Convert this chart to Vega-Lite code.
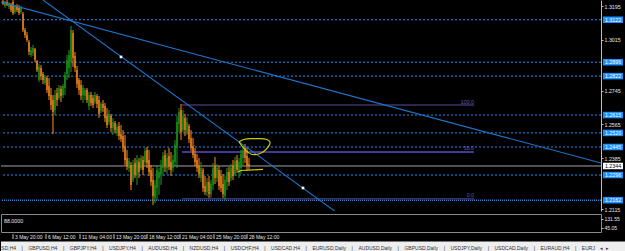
{
"$schema": "https://vega.github.io/schema/vega-lite/v6.json",
"background": "#000000",
"padding": 0,
"spacing": 0,
"config": {"font": "Liberation Sans", "view": {"stroke": null}, "axis": {"grid": false, "labelFont": "Liberation Sans"}},
"datasets": {
"candles": [
{"i":1,"o":1.3222,"h":1.3227,"l":1.3200,"c":1.3206},{"i":2,"o":1.3195,"h":1.3222,"l":1.3184,"c":1.3216},{"i":3,"o":1.3216,"h":1.3227,"l":1.3195,"c":1.3200},{"i":4,"o":1.3190,"h":1.3216,"l":1.3179,"c":1.3211},{"i":5,"o":1.3206,"h":1.3211,"l":1.3163,"c":1.3174},{"i":6,"o":1.3216,"h":1.3227,"l":1.3147,"c":1.3158},{"i":7,"o":1.3163,"h":1.3200,"l":1.3153,"c":1.3195},{"i":8,"o":1.3195,"h":1.3206,"l":1.3163,"c":1.3174},{"i":9,"o":1.3184,"h":1.3200,"l":1.3147,"c":1.3158},{"i":10,"o":1.3163,"h":1.3195,"l":1.3153,"c":1.3184},
{"i":11,"o":1.3153,"h":1.3163,"l":1.3057,"c":1.3067},{"i":12,"o":1.3067,"h":1.3078,"l":1.3025,"c":1.3041},{"i":13,"o":1.3041,"h":1.3057,"l":1.3004,"c":1.3014},{"i":14,"o":1.3004,"h":1.3014,"l":1.2934,"c":1.2950},{"i":15,"o":1.2934,"h":1.2977,"l":1.2924,"c":1.2961},{"i":16,"o":1.2945,"h":1.2988,"l":1.2929,"c":1.2972},{"i":17,"o":1.2966,"h":1.2972,"l":1.2897,"c":1.2908},{"i":18,"o":1.2903,"h":1.2908,"l":1.2844,"c":1.2855},{"i":19,"o":1.2801,"h":1.2887,"l":1.2791,"c":1.2871},{"i":20,"o":1.2865,"h":1.2881,"l":1.2801,"c":1.2823},
{"i":21,"o":1.2833,"h":1.2844,"l":1.2780,"c":1.2801},{"i":22,"o":1.2785,"h":1.2828,"l":1.2775,"c":1.2817},{"i":23,"o":1.2812,"h":1.2823,"l":1.2732,"c":1.2748},{"i":24,"o":1.2770,"h":1.2812,"l":1.2695,"c":1.2716},{"i":25,"o":1.2722,"h":1.2759,"l":1.2642,"c":1.2668},{"i":26,"o":1.2695,"h":1.2722,"l":1.2514,"c":1.2631},{"i":27,"o":1.2642,"h":1.2748,"l":1.2615,"c":1.2722},{"i":28,"o":1.2732,"h":1.2759,"l":1.2663,"c":1.2695},{"i":29,"o":1.2706,"h":1.2775,"l":1.2695,"c":1.2759},{"i":30,"o":1.2754,"h":1.2770,"l":1.2684,"c":1.2716},
{"i":31,"o":1.2722,"h":1.2780,"l":1.2706,"c":1.2770},{"i":32,"o":1.2759,"h":1.2844,"l":1.2722,"c":1.2828},{"i":33,"o":1.2833,"h":1.2934,"l":1.2801,"c":1.2908},{"i":34,"o":1.2865,"h":1.2961,"l":1.2812,"c":1.2934},{"i":35,"o":1.2897,"h":1.3089,"l":1.2844,"c":1.3067},{"i":36,"o":1.3051,"h":1.3067,"l":1.2871,"c":1.2919},{"i":37,"o":1.2929,"h":1.2950,"l":1.2844,"c":1.2865},{"i":38,"o":1.2855,"h":1.2876,"l":1.2759,"c":1.2780},{"i":39,"o":1.2801,"h":1.2812,"l":1.2722,"c":1.2748},{"i":40,"o":1.2775,"h":1.2801,"l":1.2695,"c":1.2716},
{"i":41,"o":1.2722,"h":1.2775,"l":1.2679,"c":1.2759},{"i":42,"o":1.2716,"h":1.2759,"l":1.2695,"c":1.2748},{"i":43,"o":1.2748,"h":1.2759,"l":1.2679,"c":1.2695},{"i":44,"o":1.2663,"h":1.2738,"l":1.2642,"c":1.2722},{"i":45,"o":1.2722,"h":1.2738,"l":1.2663,"c":1.2679},{"i":46,"o":1.2706,"h":1.2722,"l":1.2652,"c":1.2668},{"i":47,"o":1.2684,"h":1.2738,"l":1.2674,"c":1.2722},{"i":48,"o":1.2716,"h":1.2727,"l":1.2652,"c":1.2674},{"i":49,"o":1.2695,"h":1.2716,"l":1.2599,"c":1.2621},{"i":50,"o":1.2637,"h":1.2684,"l":1.2626,"c":1.2674},
{"i":51,"o":1.2674,"h":1.2695,"l":1.2631,"c":1.2652},{"i":52,"o":1.2663,"h":1.2679,"l":1.2578,"c":1.2599},{"i":53,"o":1.2610,"h":1.2652,"l":1.2546,"c":1.2562},{"i":54,"o":1.2578,"h":1.2642,"l":1.2562,"c":1.2621},{"i":55,"o":1.2610,"h":1.2621,"l":1.2525,"c":1.2546},{"i":56,"o":1.2546,"h":1.2599,"l":1.2509,"c":1.2578},{"i":57,"o":1.2573,"h":1.2583,"l":1.2519,"c":1.2535},{"i":58,"o":1.2519,"h":1.2567,"l":1.2503,"c":1.2551},{"i":59,"o":1.2557,"h":1.2578,"l":1.2482,"c":1.2503},{"i":60,"o":1.2514,"h":1.2562,"l":1.2472,"c":1.2487},
{"i":61,"o":1.2503,"h":1.2535,"l":1.2418,"c":1.2440},{"i":62,"o":1.2450,"h":1.2509,"l":1.2349,"c":1.2376},{"i":63,"o":1.2386,"h":1.2429,"l":1.2323,"c":1.2344},{"i":64,"o":1.2333,"h":1.2386,"l":1.2312,"c":1.2370},{"i":65,"o":1.2349,"h":1.2365,"l":1.2216,"c":1.2243},{"i":66,"o":1.2269,"h":1.2376,"l":1.2259,"c":1.2349},{"i":67,"o":1.2360,"h":1.2386,"l":1.2280,"c":1.2296},{"i":68,"o":1.2296,"h":1.2402,"l":1.2243,"c":1.2376},{"i":69,"o":1.2365,"h":1.2386,"l":1.2280,"c":1.2312},{"i":70,"o":1.2333,"h":1.2402,"l":1.2323,"c":1.2386},
{"i":71,"o":1.2376,"h":1.2397,"l":1.2296,"c":1.2323},{"i":72,"o":1.2365,"h":1.2440,"l":1.2349,"c":1.2424},{"i":73,"o":1.2429,"h":1.2445,"l":1.2333,"c":1.2360},{"i":74,"o":1.2376,"h":1.2429,"l":1.2291,"c":1.2312},{"i":75,"o":1.2323,"h":1.2349,"l":1.2238,"c":1.2259},{"i":76,"o":1.2269,"h":1.2333,"l":1.2136,"c":1.2184},{"i":77,"o":1.2174,"h":1.2269,"l":1.2147,"c":1.2243},{"i":78,"o":1.2227,"h":1.2349,"l":1.2163,"c":1.2323},{"i":79,"o":1.2280,"h":1.2333,"l":1.2190,"c":1.2312},{"i":80,"o":1.2301,"h":1.2376,"l":1.2243,"c":1.2349},
{"i":81,"o":1.2333,"h":1.2418,"l":1.2291,"c":1.2397},{"i":82,"o":1.2402,"h":1.2429,"l":1.2312,"c":1.2349},{"i":83,"o":1.2333,"h":1.2413,"l":1.2301,"c":1.2386},{"i":84,"o":1.2397,"h":1.2440,"l":1.2323,"c":1.2344},{"i":85,"o":1.2365,"h":1.2418,"l":1.2291,"c":1.2323},{"i":86,"o":1.2333,"h":1.2402,"l":1.2312,"c":1.2376},{"i":87,"o":1.2365,"h":1.2482,"l":1.2344,"c":1.2456},{"i":88,"o":1.2440,"h":1.2610,"l":1.2333,"c":1.2578},{"i":89,"o":1.2567,"h":1.2652,"l":1.2525,"c":1.2631},{"i":90,"o":1.2642,"h":1.2674,"l":1.2482,"c":1.2525},
{"i":91,"o":1.2535,"h":1.2642,"l":1.2525,"c":1.2610},{"i":92,"o":1.2599,"h":1.2621,"l":1.2503,"c":1.2535},{"i":93,"o":1.2519,"h":1.2605,"l":1.2509,"c":1.2578},{"i":94,"o":1.2557,"h":1.2567,"l":1.2466,"c":1.2487},{"i":95,"o":1.2493,"h":1.2535,"l":1.2424,"c":1.2440},{"i":96,"o":1.2450,"h":1.2493,"l":1.2386,"c":1.2402},{"i":97,"o":1.2408,"h":1.2440,"l":1.2344,"c":1.2365},{"i":98,"o":1.2376,"h":1.2408,"l":1.2312,"c":1.2333},{"i":99,"o":1.2344,"h":1.2386,"l":1.2280,"c":1.2301},{"i":100,"o":1.2280,"h":1.2365,"l":1.2259,"c":1.2333},
{"i":101,"o":1.2323,"h":1.2333,"l":1.2206,"c":1.2227},{"i":102,"o":1.2238,"h":1.2291,"l":1.2190,"c":1.2206},{"i":103,"o":1.2206,"h":1.2280,"l":1.2184,"c":1.2259},{"i":104,"o":1.2259,"h":1.2291,"l":1.2174,"c":1.2195},{"i":105,"o":1.2195,"h":1.2269,"l":1.2179,"c":1.2248},{"i":106,"o":1.2243,"h":1.2360,"l":1.2216,"c":1.2333},{"i":107,"o":1.2344,"h":1.2392,"l":1.2248,"c":1.2280},{"i":108,"o":1.2280,"h":1.2354,"l":1.2259,"c":1.2333},{"i":109,"o":1.2323,"h":1.2344,"l":1.2216,"c":1.2238},{"i":110,"o":1.2291,"h":1.2323,"l":1.2206,"c":1.2227},
{"i":111,"o":1.2248,"h":1.2301,"l":1.2174,"c":1.2195},{"i":112,"o":1.2184,"h":1.2291,"l":1.2163,"c":1.2269},{"i":113,"o":1.2259,"h":1.2333,"l":1.2216,"c":1.2312},{"i":114,"o":1.2312,"h":1.2339,"l":1.2238,"c":1.2259},{"i":115,"o":1.2280,"h":1.2354,"l":1.2264,"c":1.2333},{"i":116,"o":1.2344,"h":1.2376,"l":1.2269,"c":1.2291},{"i":117,"o":1.2301,"h":1.2392,"l":1.2291,"c":1.2370},{"i":118,"o":1.2376,"h":1.2402,"l":1.2307,"c":1.2323},{"i":119,"o":1.2312,"h":1.2386,"l":1.2280,"c":1.2365},{"i":120,"o":1.2333,"h":1.2429,"l":1.2301,"c":1.2408},
{"i":121,"o":1.2386,"h":1.2450,"l":1.2344,"c":1.2429},{"i":122,"o":1.2440,"h":1.2461,"l":1.2360,"c":1.2386},{"i":123,"o":1.2397,"h":1.2440,"l":1.2317,"c":1.2344},{"i":124,"o":1.2354,"h":1.2386,"l":1.2323,"c":1.2344}
],
"levels": [
{"kind":"level","price":1.3122,"label":"1.3122"},{"kind":"level","price":1.2896,"label":"1.2896"},{"kind":"level","price":1.2822,"label":"1.2822"},{"kind":"level","price":1.2615,"label":"1.2615"},{"kind":"level","price":1.2520,"label":"1.2520"},{"kind":"level","price":1.2445,"label":"1.2445"},{"kind":"level","price":1.2296,"label":"1.2296"},{"kind":"support","price":1.2162,"label":"1.2162"}
],
"bid": [{"price":1.2344,"label":"1.2344"}],
"fib": [{"level":"100.0","price":1.2668},{"level":"50.0","price":1.2419},{"level":"0.0","price":1.2170}],
"fibdiag": [{"i":90.5,"price":1.2668},{"i":105,"price":1.2170}],
"trend": [{"line":"A","i":0,"price":1.3216},{"line":"A","i":300,"price":1.2360},{"line":"B","i":21,"price":1.3227},{"line":"B","i":167.5,"price":1.2099}],
"anchors": [{"i":60,"price":1.2924},{"i":151,"price":1.2227}],
"ellipse": [{"n":1,"i":119,"price":1.2472},{"n":2,"i":121,"price":1.2487},{"n":3,"i":125,"price":1.2490},{"n":4,"i":130,"price":1.2490},{"n":5,"i":133,"price":1.2487},{"n":6,"i":135,"price":1.2472},{"n":7,"i":134,"price":1.2450},{"n":8,"i":132,"price":1.2424},{"n":9,"i":129,"price":1.2405},{"n":10,"i":125,"price":1.2402},{"n":11,"i":122.5,"price":1.2424},{"n":12,"i":120,"price":1.2456},{"n":13,"i":119,"price":1.2472}],
"yline": [{"n":1,"i":118.5,"price":1.2312},{"n":2,"i":120,"price":1.2320},{"n":3,"i":126,"price":1.2323},{"n":4,"i":131,"price":1.2326}],
"times": [{"i":6,"t":"3 May 20:00"},{"i":22.5,"t":"6 May 12:00"},{"i":39.5,"t":"11 May 04:00"},{"i":56.5,"t":"13 May 20:00"},{"i":73,"t":"18 May 12:00"},{"i":89.5,"t":"21 May 04:00"},{"i":106.5,"t":"25 May 20:00"},{"i":123,"t":"28 May 12:00"}],
"tabs": [{"t":"SD,H4\u00a0\u00a0\u00a0\u00a0|\u00a0\u00a0\u00a0\u00a0GBPUSD,H4\u00a0\u00a0\u00a0\u00a0|\u00a0\u00a0\u00a0\u00a0GBPJPY,H4\u00a0\u00a0\u00a0\u00a0|\u00a0\u00a0\u00a0\u00a0USDJPY,H4\u00a0\u00a0\u00a0\u00a0|\u00a0\u00a0\u00a0\u00a0AUDUSD,H4\u00a0\u00a0\u00a0\u00a0|\u00a0\u00a0\u00a0\u00a0NZDUSD,H4\u00a0\u00a0\u00a0\u00a0|\u00a0\u00a0\u00a0\u00a0USDCHF,H4\u00a0\u00a0\u00a0\u00a0|\u00a0\u00a0\u00a0\u00a0USDCAD,H4\u00a0\u00a0\u00a0\u00a0|\u00a0\u00a0\u00a0\u00a0EURUSD,Daily\u00a0\u00a0\u00a0\u00a0|\u00a0\u00a0\u00a0\u00a0AUDUSD,Daily\u00a0\u00a0\u00a0\u00a0|\u00a0\u00a0\u00a0\u00a0GBPUSD,Daily\u00a0\u00a0\u00a0\u00a0|\u00a0\u00a0\u00a0\u00a0USDJPY,Daily\u00a0\u00a0\u00a0\u00a0|\u00a0\u00a0\u00a0\u00a0USDCAD,Daily\u00a0\u00a0\u00a0\u00a0|\u00a0\u00a0\u00a0\u00a0EURAUD,H4\u00a0\u00a0\u00a0\u00a0|\u00a0\u00a0\u00a0\u00a0EURJ\u00a0\u00a0\u00a0\u00a0\u25c2\u00a0\u00a0\u25b8"}]
},
"vconcat": [
{
"width": 600, "height": 211,
"layer": [
{"data": {"name": "levels"}, "transform": [{"filter": "datum.kind == 'level'"}],
 "mark": {"type": "rule", "color": "#1e8cf0", "strokeDash": [2, 2], "strokeWidth": 1, "clip": true},
 "encoding": {"y": {"field": "price", "type": "quantitative", "title": null, "scale": {"domain": [1.21045, 1.3227], "nice": false, "zero": false},
   "axis": {"orient": "right", "values": [1.3195,1.3105,1.3015,1.2925,1.2745,1.2655,1.2565,1.2475,1.2385,1.2205,1.2115], "format": ".4f", "title": null, "labelColor": "#e6e6e6", "labelFontSize": 5.3, "labelPadding": 1, "tickSize": 2, "tickColor": "#bdbdbd", "domainColor": "#bdbdbd", "domain": true, "ticks": true, "labels": true, "labelFlush": false, "labelOverlap": false, "labelBound": false}}}},
{"data": {"name": "levels"}, "transform": [{"filter": "datum.kind == 'support'"}],
 "mark": {"type": "rule", "color": "#2a80d8", "strokeDash": [1, 1], "strokeWidth": 1.5, "clip": true},
 "encoding": {"y": {"field": "price", "type": "quantitative", "title": null, "scale": {"domain": [1.21045, 1.3227], "nice": false, "zero": false}}}},
{"data": {"name": "bid"},
 "mark": {"type": "rule", "color": "#a3a3a3", "strokeWidth": 1, "clip": true},
 "encoding": {"y": {"field": "price", "type": "quantitative", "title": null, "scale": {"domain": [1.21045, 1.3227], "nice": false, "zero": false}}}},
{"data": {"name": "fib"},
 "mark": {"type": "rule", "strokeWidth": 1.5},
 "encoding": {"x": {"datum": 90.5, "type": "quantitative", "scale": {"domain": [0, 300], "nice": false, "zero": false}, "axis": null},
   "x2": {"datum": 236.5},
   "y": {"field": "price", "type": "quantitative", "title": null, "scale": {"domain": [1.21045, 1.3227], "nice": false, "zero": false}},
   "color": {"field": "level", "type": "nominal", "scale": {"domain": ["100.0", "50.0", "0.0"], "range": ["#3b3466", "#5a4ac4", "#3b3466"]}, "legend": null}}},
{"data": {"name": "fib"},
 "mark": {"type": "text", "align": "right", "baseline": "bottom", "fontSize": 5.3, "color": "#6a5ab8", "dy": -0.5},
 "encoding": {"x": {"datum": 236.5, "type": "quantitative", "scale": {"domain": [0, 300], "nice": false, "zero": false}, "axis": null},
   "y": {"field": "price", "type": "quantitative", "title": null, "scale": {"domain": [1.21045, 1.3227], "nice": false, "zero": false}},
   "text": {"field": "level"}}},
{"data": {"name": "candles"},
 "mark": {"type": "rule", "strokeWidth": 1, "clip": true},
 "encoding": {"x": {"field": "i", "type": "quantitative", "scale": {"domain": [0, 300], "nice": false, "zero": false}, "axis": null},
   "y": {"field": "l", "type": "quantitative", "title": null, "scale": {"domain": [1.21045, 1.3227], "nice": false, "zero": false}},
   "y2": {"field": "h"},
   "color": {"condition": {"test": "datum.c >= datum.o", "value": "#1f9a1f"}, "value": "#ff8c1a"}}},
{"data": {"name": "candles"},
 "mark": {"type": "rule", "strokeWidth": 1.6, "clip": true},
 "encoding": {"x": {"field": "i", "type": "quantitative", "scale": {"domain": [0, 300], "nice": false, "zero": false}, "axis": null},
   "y": {"field": "o", "type": "quantitative", "title": null, "scale": {"domain": [1.21045, 1.3227], "nice": false, "zero": false}},
   "y2": {"field": "c"},
   "color": {"condition": {"test": "datum.c >= datum.o", "value": "#188a1a"}, "value": "#e07a1c"}}},
{"data": {"name": "fibdiag"},
 "mark": {"type": "line", "color": "#c81e1e", "strokeDash": [1, 2], "strokeWidth": 1},
 "encoding": {"x": {"field": "i", "type": "quantitative", "scale": {"domain": [0, 300], "nice": false, "zero": false}, "axis": null},
   "y": {"field": "price", "type": "quantitative", "title": null, "scale": {"domain": [1.21045, 1.3227], "nice": false, "zero": false}}}},
{"data": {"name": "trend"},
 "mark": {"type": "line", "color": "#1f74cc", "strokeWidth": 1.1, "clip": true},
 "encoding": {"x": {"field": "i", "type": "quantitative", "scale": {"domain": [0, 300], "nice": false, "zero": false}, "axis": null},
   "y": {"field": "price", "type": "quantitative", "title": null, "scale": {"domain": [1.21045, 1.3227], "nice": false, "zero": false}},
   "detail": {"field": "line", "type": "nominal"}}},
{"data": {"name": "anchors"},
 "mark": {"type": "point", "shape": "square", "filled": true, "color": "#ffffff", "size": 7, "opacity": 1},
 "encoding": {"x": {"field": "i", "type": "quantitative", "scale": {"domain": [0, 300], "nice": false, "zero": false}, "axis": null},
   "y": {"field": "price", "type": "quantitative", "title": null, "scale": {"domain": [1.21045, 1.3227], "nice": false, "zero": false}}}},
{"data": {"name": "ellipse"},
 "mark": {"type": "line", "color": "#cccc00", "strokeWidth": 1.2, "interpolate": "basis"},
 "encoding": {"x": {"field": "i", "type": "quantitative", "scale": {"domain": [0, 300], "nice": false, "zero": false}, "axis": null},
   "y": {"field": "price", "type": "quantitative", "title": null, "scale": {"domain": [1.21045, 1.3227], "nice": false, "zero": false}},
   "order": {"field": "n", "type": "quantitative"}}},
{"data": {"name": "yline"},
 "mark": {"type": "line", "color": "#cccc00", "strokeWidth": 1.2},
 "encoding": {"x": {"field": "i", "type": "quantitative", "scale": {"domain": [0, 300], "nice": false, "zero": false}, "axis": null},
   "y": {"field": "price", "type": "quantitative", "title": null, "scale": {"domain": [1.21045, 1.3227], "nice": false, "zero": false}},
   "order": {"field": "n", "type": "quantitative"}}},
{"data": {"name": "levels"},
 "mark": {"type": "tick", "orient": "horizontal", "color": "#1e90ff", "size": 20, "thickness": 6.5, "opacity": 1},
 "encoding": {"x": {"datum": 306, "type": "quantitative", "scale": {"domain": [0, 300], "nice": false, "zero": false}, "axis": null},
   "y": {"field": "price", "type": "quantitative", "title": null, "scale": {"domain": [1.21045, 1.3227], "nice": false, "zero": false}}}},
{"data": {"name": "levels"},
 "mark": {"type": "text", "align": "center", "baseline": "middle", "fontSize": 5.3, "color": "#ffffff"},
 "encoding": {"x": {"datum": 306, "type": "quantitative", "scale": {"domain": [0, 300], "nice": false, "zero": false}, "axis": null},
   "y": {"field": "price", "type": "quantitative", "title": null, "scale": {"domain": [1.21045, 1.3227], "nice": false, "zero": false}},
   "text": {"field": "label"}}},
{"data": {"name": "bid"},
 "mark": {"type": "tick", "orient": "horizontal", "color": "#ffffff", "size": 20, "thickness": 6.5, "opacity": 1},
 "encoding": {"x": {"datum": 306, "type": "quantitative", "scale": {"domain": [0, 300], "nice": false, "zero": false}, "axis": null},
   "y": {"field": "price", "type": "quantitative", "title": null, "scale": {"domain": [1.21045, 1.3227], "nice": false, "zero": false}}}},
{"data": {"name": "bid"},
 "mark": {"type": "text", "align": "center", "baseline": "middle", "fontSize": 5.3, "color": "#000000"},
 "encoding": {"x": {"datum": 306, "type": "quantitative", "scale": {"domain": [0, 300], "nice": false, "zero": false}, "axis": null},
   "y": {"field": "price", "type": "quantitative", "title": null, "scale": {"domain": [1.21045, 1.3227], "nice": false, "zero": false}},
   "text": {"field": "label"}}}
]
},
{
"width": 600, "height": 18,
"view": {"stroke": "#8a8a8a"},
"data": {"values": [{"v": "88.0000"}]},
"mark": {"type": "text", "align": "left", "baseline": "middle", "fontSize": 5.3, "color": "#e6e6e6"},
"encoding": {
 "x": {"datum": 1.5, "type": "quantitative", "scale": {"domain": [0, 300], "nice": false, "zero": false}, "axis": null},
 "y": {"datum": 112, "type": "quantitative", "scale": {"domain": [6.6, 179.6], "nice": false, "zero": false},
   "axis": {"orient": "right", "values": [45.05, 131.55], "format": ".2f", "title": null, "domain": false, "tickSize": 2, "tickColor": "#bdbdbd", "labelColor": "#e6e6e6", "labelFontSize": 5, "labelPadding": 1, "labelFlush": false, "labelOverlap": false, "labelBound": false}},
 "text": {"field": "v"}
}
},
{
"width": 625, "height": 22,
"layer": [
{"data": {"values": [{"band": "tabs"}]},
 "mark": {"type": "rect", "color": "#eeeeee"},
 "encoding": {"x": {"datum": 0, "type": "quantitative", "scale": {"domain": [0, 312.5], "nice": false, "zero": false}, "axis": null},
   "x2": {"datum": 312.5},
   "y": {"datum": 0, "type": "quantitative", "scale": {"domain": [0, 22], "nice": false, "zero": false}, "axis": null},
   "y2": {"datum": 14.5}}},
{"data": {"name": "times"},
 "mark": {"type": "rule", "color": "#c8c8c8", "strokeWidth": 1},
 "encoding": {"x": {"field": "i", "type": "quantitative", "scale": {"domain": [0, 312.5], "nice": false, "zero": false}, "axis": null},
   "y": {"datum": 21.8, "type": "quantitative", "scale": {"domain": [0, 22], "nice": false, "zero": false}, "axis": null},
   "y2": {"datum": 17}}},
{"data": {"name": "times"},
 "mark": {"type": "text", "align": "left", "baseline": "middle", "fontSize": 5, "color": "#e6e6e6", "dx": 2},
 "encoding": {"x": {"field": "i", "type": "quantitative", "scale": {"domain": [0, 312.5], "nice": false, "zero": false}, "axis": null},
   "y": {"datum": 19.3, "type": "quantitative", "scale": {"domain": [0, 22], "nice": false, "zero": false}, "axis": null},
   "text": {"field": "t"}}},
{"data": {"name": "tabs"},
 "mark": {"type": "text", "align": "left", "baseline": "middle", "fontSize": 5, "color": "#333333"},
 "encoding": {"x": {"datum": 0.15, "type": "quantitative", "scale": {"domain": [0, 312.5], "nice": false, "zero": false}, "axis": null},
   "y": {"datum": 8.5, "type": "quantitative", "scale": {"domain": [0, 22], "nice": false, "zero": false}, "axis": null},
   "text": {"field": "t"}}}
]
}
]
}
